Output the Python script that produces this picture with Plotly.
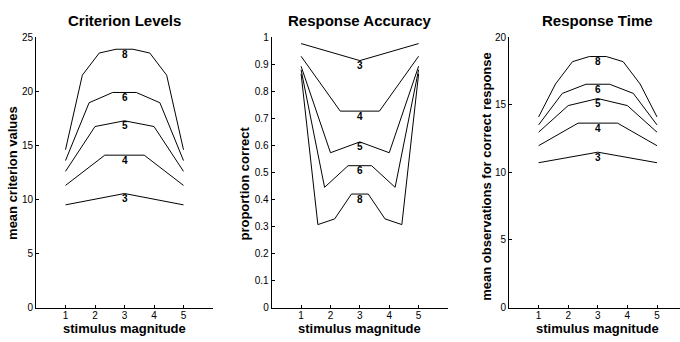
import numpy as np
import plotly.graph_objects as go

# vertex positions (stimulus magnitude) for each number of criteria
x3 = [1, 3, 5]
x4 = [1, 2.333, 3.667, 5]
x5 = [1, 2, 3, 4, 5]
x6 = [1, 1.8, 2.6, 3.4, 4.2, 5]
x8 = [1, 1.571, 2.143, 2.714, 3.286, 3.857, 4.429, 5]
series_names = ["3", "4", "5", "6", "8"]

# Criterion Levels
crit3 = [9.5, 10.55, 9.5]
crit4 = [11.3, 14.1, 14.1, 11.3]
crit5 = [12.6, 16.75, 17.28, 16.75, 12.6]
crit6 = [13.6, 18.95, 19.9, 19.9, 18.95, 13.6]
crit8 = [14.6, 21.5, 23.55, 23.9, 23.9, 23.55, 21.5, 14.6]

# Response Accuracy
acc3 = [0.977, 0.914, 0.977]
acc4 = [0.930, 0.727, 0.727, 0.930]
acc5 = [0.893, 0.573, 0.613, 0.573, 0.893]
acc6 = [0.880, 0.445, 0.525, 0.525, 0.445, 0.880]
acc8 = [0.865, 0.307, 0.328, 0.420, 0.420, 0.328, 0.307, 0.865]

# Response Time
rt3 = [10.72, 11.5, 10.72]
rt4 = [11.98, 13.65, 13.65, 11.98]
rt5 = [12.98, 14.95, 15.47, 14.95, 12.98]
rt6 = [13.52, 15.85, 16.53, 16.53, 15.85, 13.52]
rt8 = [14.11, 16.55, 18.2, 18.58, 18.58, 18.2, 16.55, 14.11]

xs = [x3, x4, x5, x6, x8]
panels = [
    dict(title="Criterion Levels", ytitle="mean criterion values",
         data=[crit3, crit4, crit5, crit6, crit8], yrange=[0, 25], dtick=5,
         ytx=13, yty=173),
    dict(title="Response Accuracy", ytitle="proportion correct",
         data=[acc3, acc4, acc5, acc6, acc8], yrange=[0, 1], dtick=0.1,
         ytx=245, yty=184),
    dict(title="Response Time", ytitle="mean observations for correct response",
         data=[rt3, rt4, rt5, rt6, rt8], yrange=[0, 20], dtick=5,
         ytx=487, yty=177),
]

W, H = 680, 342
xdomains = [[36 / W, 213 / W], [271.7 / W, 448 / W], [509 / W, 1.0]]
xranges = [[0, 6], [0, 6], [0, (680 - 509) / 29.6]]
ydom = [1 - 312.5 / H, 1 - 32.5 / H]

FONT = "Liberation Sans, Arial, sans-serif"
fig = go.Figure()
annotations = []
for i, p in enumerate(panels):
    xa = "x" if i == 0 else f"x{i+1}"
    ya = "y" if i == 0 else f"y{i+1}"
    for name, xv, yv in zip(series_names, xs, p["data"]):
        fig.add_trace(go.Scatter(x=xv, y=yv, mode="lines", xaxis=xa, yaxis=ya,
                                 line=dict(color="black", width=1),
                                 showlegend=False, hoverinfo="skip"))
        mid = float(np.interp(3, xv, yv))
        annotations.append(dict(x=3, y=mid, xref=xa, yref=ya, text=f"<b>{name}</b>",
                                showarrow=False, yanchor="middle", yshift=-5,
                                font=dict(family=FONT, size=10, color="black")))
    # panel title
    annotations.append(dict(x=3, y=1 - 15 / H, xref=xa, yref="paper",
                            text=f"<b>{p['title']}</b>", showarrow=False,
                            yanchor="middle",
                            font=dict(family=FONT, size=15, color="black")))
    # x title
    annotations.append(dict(x=3, y=0, xref=xa, yref="paper",
                            text="<b>stimulus magnitude</b>", showarrow=False,
                            yanchor="bottom", borderpad=0, yshift=-1,
                            font=dict(family=FONT, size=13, color="black")))
    # y title
    annotations.append(dict(x=p["ytx"] / W, y=1 - p["yty"] / H, xref="paper", yref="paper",
                            text=f"<b>{p['ytitle']}</b>", showarrow=False, textangle=-90,
                            xanchor="center", yanchor="middle",
                            font=dict(family=FONT, size=13, color="black")))

    axis_common = dict(showline=True, linecolor="black", linewidth=1, showgrid=False,
                       zeroline=False, ticks="inside", ticklen=3, tickcolor="black",
                       tickfont=dict(family=FONT, size=10, color="black"))
    fig.layout[("xaxis" if i == 0 else f"xaxis{i+1}")] = dict(
        domain=xdomains[i], range=xranges[i], tickvals=[1, 2, 3, 4, 5],
        anchor=ya, ticklabelstandoff=-2, **axis_common)
    fig.layout[("yaxis" if i == 0 else f"yaxis{i+1}")] = dict(
        domain=ydom, range=p["yrange"], dtick=p["dtick"], tick0=0,
        anchor=xa, **axis_common)

fig.update_layout(width=W, height=H, margin=dict(l=0, r=0, t=0, b=0),
                  paper_bgcolor="white", plot_bgcolor="white",
                  annotations=annotations, font=dict(family=FONT))
fig.write_html("out.html", config={"displayModeBar": False},
               post_script="document.body.style.margin='0';"
                           "document.body.style.overflow='hidden';")
